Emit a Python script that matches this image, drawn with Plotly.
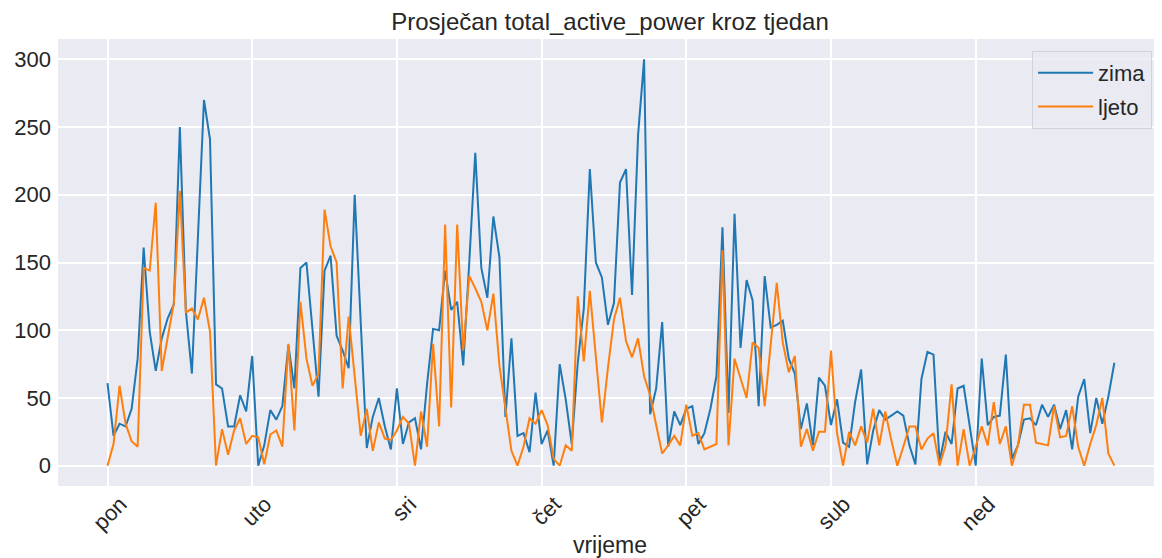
import plotly.graph_objects as go

days = ["pon", "uto", "sri", "čet", "pet", "sub", "ned"]
hours_per_day = 24

zima = [61, 22, 31, 29, 42, 79, 161, 99, 70, 94, 109, 119, 250, 114, 68, 169, 270, 241, 60, 57, 29, 29, 52, 40,
        81, 0, 15, 41, 34, 44, 89, 57, 146, 150, 101, 51, 144, 155, 96, 85, 72, 200, 106, 13, 36, 50, 29, 12,
        57, 16, 32, 35, 12, 60, 101, 100, 144, 115, 121, 74, 150, 231, 146, 124, 184, 154, 36, 94, 22, 24, 10, 54,
        16, 26, 0, 75, 49, 16, 76, 116, 219, 150, 139, 104, 120, 209, 219, 126, 244, 300, 38, 57, 106, 14, 40, 30,
        42, 44, 16, 24, 42, 66, 176, 39, 186, 87, 137, 122, 44, 140, 102, 104, 107, 79, 68, 27, 46, 15, 65, 59,
        30, 49, 17, 14, 47, 71, 1, 26, 41, 34, 37, 40, 37, 15, 1, 64, 84, 82, 3, 25, 16, 57, 59, 29,
        0, 79, 30, 36, 37, 82, 5, 15, 34, 35, 30, 45, 36, 45, 27, 41, 12, 51, 64, 24, 50, 31, 51, 76]

ljeto = [0, 16, 59, 31, 18, 14, 146, 144, 194, 70, 95, 120, 203, 113, 116, 108, 124, 99, 0, 27, 8, 26, 35, 16,
         22, 21, 1, 23, 26, 14, 90, 26, 121, 79, 59, 68, 189, 162, 150, 57, 110, 68, 22, 42, 11, 32, 20, 19,
         26, 36, 31, 0, 40, 14, 90, 29, 178, 43, 178, 85, 140, 131, 121, 100, 127, 74, 41, 11, 0, 14, 35, 31,
         41, 30, 5, 0, 15, 11, 125, 77, 129, 80, 32, 72, 108, 124, 92, 80, 94, 66, 52, 30, 9, 15, 22, 15,
         45, 22, 24, 12, 14, 16, 159, 15, 79, 64, 50, 91, 87, 44, 89, 135, 91, 69, 81, 14, 27, 11, 25, 25,
         85, 24, 0, 25, 15, 29, 17, 42, 15, 40, 19, 0, 14, 29, 29, 12, 20, 24, 0, 15, 60, 0, 27, 0,
         14, 29, 15, 47, 16, 29, 0, 15, 45, 45, 17, 16, 15, 44, 21, 22, 44, 14, 0, 16, 30, 50, 9, 0]

x = list(range(len(zima)))
tickvals = [i * hours_per_day for i in range(len(days))]

TXT = "#262626"
FONT = "Liberation Sans, Arial, sans-serif"

fig = go.Figure()
fig.add_trace(go.Scatter(x=x, y=zima, mode="lines", name="zima", legendgroup="a",
                         line=dict(color="#1f77b4", width=2)))
fig.add_trace(go.Scatter(x=x, y=ljeto, mode="lines", name="ljeto", legendgroup="b",
                         line=dict(color="#ff7f0e", width=2)))

# the page body has an 8px margin, so the figure is sized to fit the window from (8, 8)
W, H = 1154, 550
ML, MT, MB = 50, 31, 72

fig.update_layout(
    width=W, height=H,
    autosize=False,
    paper_bgcolor="white",
    plot_bgcolor="#EAEAF2",
    margin=dict(l=ML, r=0, t=MT, b=MB, autoexpand=False),
    font=dict(family=FONT, color=TXT, size=22),
    title=dict(text="Prosječan total_active_power kroz tjedan",
               x=(ML + (W - ML) / 2) / W, xanchor="center",
               y=1 - 14 / H, yanchor="middle", yref="container",
               font=dict(size=24, color=TXT, family=FONT)),
    legend=dict(x=0.991, y=0.973, xanchor="right", yanchor="top",
                bgcolor="rgba(234,234,242,0.8)", bordercolor="#D2D2D8", borderwidth=1,
                font=dict(size=22, color=TXT, family=FONT),
                itemwidth=55, tracegroupgap=2),
    showlegend=True,
)

fig.update_xaxes(
    range=[-8.21, 174.9],
    tickmode="array", tickvals=tickvals, ticktext=days,
    tickangle=-45,
    tickfont=dict(size=22, color=TXT),
    ticklabelshift=13,
    showgrid=True, gridcolor="white", gridwidth=1.5,
    zeroline=False, showline=False, ticks="",
    title=dict(text="vrijeme", font=dict(size=23, color=TXT), standoff=10),
)
fig.update_yaxes(
    range=[-15, 315],
    tickmode="array", tickvals=[0, 50, 100, 150, 200, 250, 300],
    tickfont=dict(size=22, color=TXT),
    showgrid=True, gridcolor="white", gridwidth=1.5,
    zeroline=False, showline=False, ticks="",
    ticklabelstandoff=6,
)

fig.write_html("out.html")
